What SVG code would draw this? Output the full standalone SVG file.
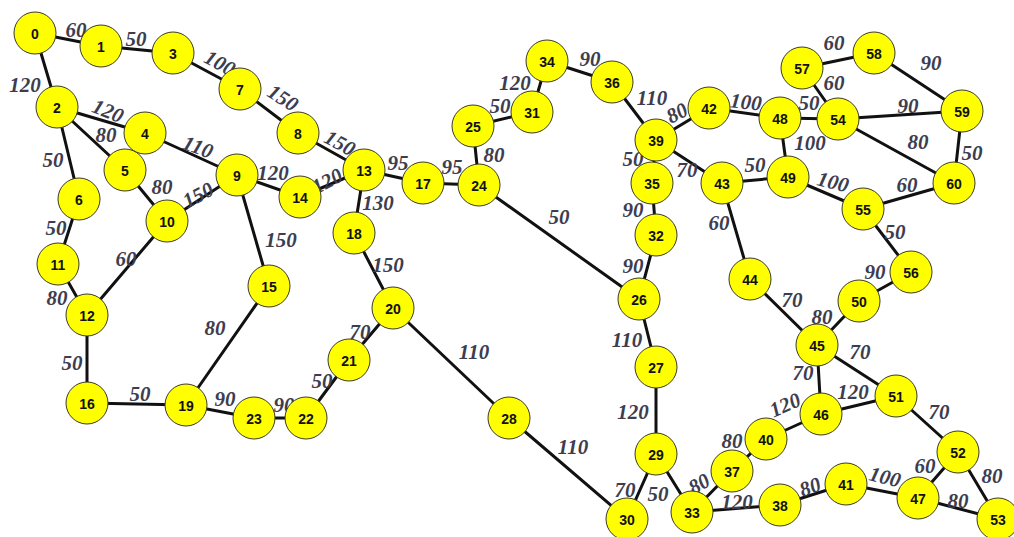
<svg xmlns="http://www.w3.org/2000/svg" width="1014" height="537" viewBox="0 0 1014 537">
  <style>
    .edge { stroke: #111; stroke-width: 3; stroke-linecap: round; }
    .w { font-family: "Liberation Serif", "Times New Roman", serif; font-style: italic; font-weight: bold; font-size: 21px; fill: #3d3d50; text-anchor: middle; dominant-baseline: central; }
    .node circle { fill: #ffff00; stroke: #3a3a2a; stroke-width: 1; }
    .node text { font-family: "Liberation Sans", Arial, sans-serif; font-weight: bold; font-size: 14px; fill: #111; text-anchor: middle; dominant-baseline: central; }
  </style>
  <rect width="1014" height="537" fill="#ffffff"/>

  <!-- connectors -->
  <g id="connectors">
    <line class="edge" x1="35" y1="33" x2="101" y2="46"/>
    <line class="edge" x1="101" y1="46" x2="173" y2="53"/>
    <line class="edge" x1="173" y1="53" x2="240" y2="89"/>
    <line class="edge" x1="240" y1="89" x2="298" y2="133"/>
    <line class="edge" x1="298" y1="133" x2="364" y2="170"/>
    <line class="edge" x1="35" y1="33" x2="57" y2="107"/>
    <line class="edge" x1="57" y1="107" x2="145" y2="133"/>
    <line class="edge" x1="57" y1="107" x2="125" y2="170"/>
    <line class="edge" x1="57" y1="107" x2="79" y2="199"/>
    <line class="edge" x1="145" y1="133" x2="237" y2="175"/>
    <line class="edge" x1="125" y1="170" x2="167" y2="221"/>
    <line class="edge" x1="167" y1="221" x2="237" y2="175"/>
    <line class="edge" x1="237" y1="175" x2="300" y2="197"/>
    <line class="edge" x1="300" y1="197" x2="364" y2="170"/>
    <line class="edge" x1="237" y1="175" x2="269" y2="286"/>
    <line class="edge" x1="79" y1="199" x2="58" y2="264"/>
    <line class="edge" x1="58" y1="264" x2="87" y2="315"/>
    <line class="edge" x1="167" y1="221" x2="87" y2="315"/>
    <line class="edge" x1="87" y1="315" x2="87" y2="403"/>
    <line class="edge" x1="87" y1="403" x2="186" y2="405"/>
    <line class="edge" x1="269" y1="286" x2="186" y2="405"/>
    <line class="edge" x1="186" y1="405" x2="254" y2="418"/>
    <line class="edge" x1="254" y1="418" x2="306" y2="418"/>
    <line class="edge" x1="306" y1="418" x2="349" y2="360"/>
    <line class="edge" x1="349" y1="360" x2="393" y2="308"/>
    <line class="edge" x1="393" y1="308" x2="354" y2="233"/>
    <line class="edge" x1="354" y1="233" x2="364" y2="170"/>
    <line class="edge" x1="364" y1="170" x2="423" y2="183"/>
    <line class="edge" x1="423" y1="183" x2="479" y2="185"/>
    <line class="edge" x1="479" y1="185" x2="473" y2="126"/>
    <line class="edge" x1="473" y1="126" x2="532" y2="112"/>
    <line class="edge" x1="532" y1="112" x2="547" y2="61"/>
    <line class="edge" x1="547" y1="61" x2="612" y2="82"/>
    <line class="edge" x1="612" y1="82" x2="656" y2="140"/>
    <line class="edge" x1="656" y1="140" x2="709" y2="108"/>
    <line class="edge" x1="656" y1="140" x2="652" y2="183"/>
    <line class="edge" x1="656" y1="140" x2="722" y2="183"/>
    <line class="edge" x1="479" y1="185" x2="639" y2="299"/>
    <line class="edge" x1="652" y1="183" x2="656" y2="235"/>
    <line class="edge" x1="656" y1="235" x2="639" y2="299"/>
    <line class="edge" x1="639" y1="299" x2="656" y2="367"/>
    <line class="edge" x1="656" y1="367" x2="656" y2="454"/>
    <line class="edge" x1="656" y1="454" x2="627" y2="519"/>
    <line class="edge" x1="656" y1="454" x2="692" y2="512"/>
    <line class="edge" x1="393" y1="308" x2="509" y2="418"/>
    <line class="edge" x1="509" y1="418" x2="627" y2="519"/>
    <line class="edge" x1="692" y1="512" x2="732" y2="471"/>
    <line class="edge" x1="732" y1="471" x2="766" y2="439"/>
    <line class="edge" x1="766" y1="439" x2="821" y2="414"/>
    <line class="edge" x1="692" y1="512" x2="780" y2="505"/>
    <line class="edge" x1="780" y1="505" x2="846" y2="484"/>
    <line class="edge" x1="846" y1="484" x2="918" y2="498"/>
    <line class="edge" x1="918" y1="498" x2="958" y2="452"/>
    <line class="edge" x1="918" y1="498" x2="998" y2="519"/>
    <line class="edge" x1="958" y1="452" x2="998" y2="519"/>
    <line class="edge" x1="896" y1="396" x2="958" y2="452"/>
    <line class="edge" x1="821" y1="414" x2="896" y2="396"/>
    <line class="edge" x1="817" y1="345" x2="821" y2="414"/>
    <line class="edge" x1="817" y1="345" x2="896" y2="396"/>
    <line class="edge" x1="750" y1="279" x2="817" y2="345"/>
    <line class="edge" x1="817" y1="345" x2="859" y2="301"/>
    <line class="edge" x1="859" y1="301" x2="911" y2="272"/>
    <line class="edge" x1="863" y1="209" x2="911" y2="272"/>
    <line class="edge" x1="788" y1="177" x2="863" y2="209"/>
    <line class="edge" x1="863" y1="209" x2="954" y2="183"/>
    <line class="edge" x1="722" y1="183" x2="788" y2="177"/>
    <line class="edge" x1="722" y1="183" x2="750" y2="279"/>
    <line class="edge" x1="709" y1="108" x2="780" y2="118"/>
    <line class="edge" x1="780" y1="118" x2="838" y2="119"/>
    <line class="edge" x1="780" y1="118" x2="788" y2="177"/>
    <line class="edge" x1="838" y1="119" x2="802" y2="68"/>
    <line class="edge" x1="802" y1="68" x2="874" y2="53"/>
    <line class="edge" x1="874" y1="53" x2="962" y2="111"/>
    <line class="edge" x1="838" y1="119" x2="962" y2="111"/>
    <line class="edge" x1="838" y1="119" x2="954" y2="183"/>
    <line class="edge" x1="962" y1="111" x2="954" y2="183"/>
  </g>

  <!-- edge weights -->
  <g id="weights">
    <text class="w" x="76" y="30">60</text>
    <text class="w" x="136" y="39">50</text>
    <text class="w" x="220" y="63" transform="rotate(28 220 63)">100</text>
    <text class="w" x="283" y="98" transform="rotate(32 283 98)">150</text>
    <text class="w" x="340" y="143" transform="rotate(28 340 143)">150</text>
    <text class="w" x="25" y="85">120</text>
    <text class="w" x="108" y="111" transform="rotate(22 108 111)">120</text>
    <text class="w" x="106" y="135">80</text>
    <text class="w" x="53" y="160">50</text>
    <text class="w" x="198" y="147" transform="rotate(20 198 147)">110</text>
    <text class="w" x="162" y="187">80</text>
    <text class="w" x="198" y="195" transform="rotate(-28 198 195)">150</text>
    <text class="w" x="273" y="173">120</text>
    <text class="w" x="327" y="181" transform="rotate(-28 327 181)">120</text>
    <text class="w" x="281" y="240">150</text>
    <text class="w" x="56" y="228">50</text>
    <text class="w" x="57" y="298">80</text>
    <text class="w" x="126" y="259">60</text>
    <text class="w" x="72" y="363">50</text>
    <text class="w" x="140" y="394">50</text>
    <text class="w" x="215" y="328">80</text>
    <text class="w" x="225" y="399">90</text>
    <text class="w" x="284" y="405">90</text>
    <text class="w" x="322" y="381">50</text>
    <text class="w" x="360" y="332">70</text>
    <text class="w" x="388" y="265">150</text>
    <text class="w" x="378" y="203">130</text>
    <text class="w" x="398" y="163">95</text>
    <text class="w" x="452" y="167">95</text>
    <text class="w" x="494" y="155">80</text>
    <text class="w" x="500" y="106">50</text>
    <text class="w" x="515" y="83">120</text>
    <text class="w" x="590" y="59">90</text>
    <text class="w" x="652" y="98">110</text>
    <text class="w" x="677" y="113" transform="rotate(-28 677 113)">80</text>
    <text class="w" x="633" y="159">50</text>
    <text class="w" x="687" y="170">70</text>
    <text class="w" x="559" y="217">50</text>
    <text class="w" x="633" y="210">90</text>
    <text class="w" x="633" y="266">90</text>
    <text class="w" x="627" y="340">110</text>
    <text class="w" x="633" y="412">120</text>
    <text class="w" x="625" y="490">70</text>
    <text class="w" x="658" y="494">50</text>
    <text class="w" x="474" y="352">110</text>
    <text class="w" x="573" y="447">110</text>
    <text class="w" x="699" y="484" transform="rotate(-30 699 484)">80</text>
    <text class="w" x="732" y="441">80</text>
    <text class="w" x="785" y="405" transform="rotate(-24 785 405)">120</text>
    <text class="w" x="737" y="502">120</text>
    <text class="w" x="810" y="487" transform="rotate(-20 810 487)">80</text>
    <text class="w" x="885" y="477" transform="rotate(14 885 477)">100</text>
    <text class="w" x="925" y="466">60</text>
    <text class="w" x="958" y="501">80</text>
    <text class="w" x="992" y="476">80</text>
    <text class="w" x="939" y="412">70</text>
    <text class="w" x="853" y="392">120</text>
    <text class="w" x="803" y="373">70</text>
    <text class="w" x="860" y="352">70</text>
    <text class="w" x="792" y="300">70</text>
    <text class="w" x="822" y="317">80</text>
    <text class="w" x="875" y="272">90</text>
    <text class="w" x="895" y="232">50</text>
    <text class="w" x="833" y="182" transform="rotate(14 833 182)">100</text>
    <text class="w" x="907" y="185">60</text>
    <text class="w" x="755" y="165">50</text>
    <text class="w" x="719" y="223">60</text>
    <text class="w" x="746" y="102" transform="rotate(6 746 102)">100</text>
    <text class="w" x="809" y="103">50</text>
    <text class="w" x="810" y="143">100</text>
    <text class="w" x="834" y="83">60</text>
    <text class="w" x="834" y="43">60</text>
    <text class="w" x="931" y="63">90</text>
    <text class="w" x="908" y="106">90</text>
    <text class="w" x="918" y="142">80</text>
    <text class="w" x="972" y="153">50</text>
  </g>

  <!-- nodes -->
  <g id="node-0" class="node"><circle cx="35" cy="33" r="21"/><text x="35" y="34">0</text></g>
  <g id="node-1" class="node"><circle cx="101" cy="46" r="21"/><text x="101" y="47">1</text></g>
  <g id="node-2" class="node"><circle cx="57" cy="107" r="21"/><text x="57" y="108">2</text></g>
  <g id="node-3" class="node"><circle cx="173" cy="53" r="21"/><text x="173" y="54">3</text></g>
  <g id="node-4" class="node"><circle cx="145" cy="133" r="21"/><text x="145" y="134">4</text></g>
  <g id="node-5" class="node"><circle cx="125" cy="170" r="21"/><text x="125" y="171">5</text></g>
  <g id="node-6" class="node"><circle cx="79" cy="199" r="21"/><text x="79" y="200">6</text></g>
  <g id="node-7" class="node"><circle cx="240" cy="89" r="21"/><text x="240" y="90">7</text></g>
  <g id="node-8" class="node"><circle cx="298" cy="133" r="21"/><text x="298" y="134">8</text></g>
  <g id="node-9" class="node"><circle cx="237" cy="175" r="21"/><text x="237" y="176">9</text></g>
  <g id="node-10" class="node"><circle cx="167" cy="221" r="21"/><text x="167" y="222">10</text></g>
  <g id="node-11" class="node"><circle cx="58" cy="264" r="21"/><text x="58" y="265">11</text></g>
  <g id="node-12" class="node"><circle cx="87" cy="315" r="21"/><text x="87" y="316">12</text></g>
  <g id="node-13" class="node"><circle cx="364" cy="170" r="21"/><text x="364" y="171">13</text></g>
  <g id="node-14" class="node"><circle cx="300" cy="197" r="21"/><text x="300" y="198">14</text></g>
  <g id="node-15" class="node"><circle cx="269" cy="286" r="21"/><text x="269" y="287">15</text></g>
  <g id="node-16" class="node"><circle cx="87" cy="403" r="21"/><text x="87" y="404">16</text></g>
  <g id="node-17" class="node"><circle cx="423" cy="183" r="21"/><text x="423" y="184">17</text></g>
  <g id="node-18" class="node"><circle cx="354" cy="233" r="21"/><text x="354" y="234">18</text></g>
  <g id="node-19" class="node"><circle cx="186" cy="405" r="21"/><text x="186" y="406">19</text></g>
  <g id="node-20" class="node"><circle cx="393" cy="308" r="21"/><text x="393" y="309">20</text></g>
  <g id="node-21" class="node"><circle cx="349" cy="360" r="21"/><text x="349" y="361">21</text></g>
  <g id="node-22" class="node"><circle cx="306" cy="418" r="21"/><text x="306" y="419">22</text></g>
  <g id="node-23" class="node"><circle cx="254" cy="418" r="21"/><text x="254" y="419">23</text></g>
  <g id="node-24" class="node"><circle cx="479" cy="185" r="21"/><text x="479" y="186">24</text></g>
  <g id="node-25" class="node"><circle cx="473" cy="126" r="21"/><text x="473" y="127">25</text></g>
  <g id="node-26" class="node"><circle cx="639" cy="299" r="21"/><text x="639" y="300">26</text></g>
  <g id="node-27" class="node"><circle cx="656" cy="367" r="21"/><text x="656" y="368">27</text></g>
  <g id="node-28" class="node"><circle cx="509" cy="418" r="21"/><text x="509" y="419">28</text></g>
  <g id="node-29" class="node"><circle cx="656" cy="454" r="21"/><text x="656" y="455">29</text></g>
  <g id="node-30" class="node"><circle cx="627" cy="519" r="21"/><text x="627" y="520">30</text></g>
  <g id="node-31" class="node"><circle cx="532" cy="112" r="21"/><text x="532" y="113">31</text></g>
  <g id="node-32" class="node"><circle cx="656" cy="235" r="21"/><text x="656" y="236">32</text></g>
  <g id="node-33" class="node"><circle cx="692" cy="512" r="21"/><text x="692" y="513">33</text></g>
  <g id="node-34" class="node"><circle cx="547" cy="61" r="21"/><text x="547" y="62">34</text></g>
  <g id="node-35" class="node"><circle cx="652" cy="183" r="21"/><text x="652" y="184">35</text></g>
  <g id="node-36" class="node"><circle cx="612" cy="82" r="21"/><text x="612" y="83">36</text></g>
  <g id="node-37" class="node"><circle cx="732" cy="471" r="21"/><text x="732" y="472">37</text></g>
  <g id="node-38" class="node"><circle cx="780" cy="505" r="21"/><text x="780" y="506">38</text></g>
  <g id="node-39" class="node"><circle cx="656" cy="140" r="21"/><text x="656" y="141">39</text></g>
  <g id="node-40" class="node"><circle cx="766" cy="439" r="21"/><text x="766" y="440">40</text></g>
  <g id="node-41" class="node"><circle cx="846" cy="484" r="21"/><text x="846" y="485">41</text></g>
  <g id="node-42" class="node"><circle cx="709" cy="108" r="21"/><text x="709" y="109">42</text></g>
  <g id="node-43" class="node"><circle cx="722" cy="183" r="21"/><text x="722" y="184">43</text></g>
  <g id="node-44" class="node"><circle cx="750" cy="279" r="21"/><text x="750" y="280">44</text></g>
  <g id="node-45" class="node"><circle cx="817" cy="345" r="21"/><text x="817" y="346">45</text></g>
  <g id="node-46" class="node"><circle cx="821" cy="414" r="21"/><text x="821" y="415">46</text></g>
  <g id="node-47" class="node"><circle cx="918" cy="498" r="21"/><text x="918" y="499">47</text></g>
  <g id="node-48" class="node"><circle cx="780" cy="118" r="21"/><text x="780" y="119">48</text></g>
  <g id="node-49" class="node"><circle cx="788" cy="177" r="21"/><text x="788" y="178">49</text></g>
  <g id="node-50" class="node"><circle cx="859" cy="301" r="21"/><text x="859" y="302">50</text></g>
  <g id="node-51" class="node"><circle cx="896" cy="396" r="21"/><text x="896" y="397">51</text></g>
  <g id="node-52" class="node"><circle cx="958" cy="452" r="21"/><text x="958" y="453">52</text></g>
  <g id="node-53" class="node"><circle cx="998" cy="519" r="21"/><text x="998" y="520">53</text></g>
  <g id="node-54" class="node"><circle cx="838" cy="119" r="21"/><text x="838" y="120">54</text></g>
  <g id="node-55" class="node"><circle cx="863" cy="209" r="21"/><text x="863" y="210">55</text></g>
  <g id="node-56" class="node"><circle cx="911" cy="272" r="21"/><text x="911" y="273">56</text></g>
  <g id="node-57" class="node"><circle cx="802" cy="68" r="21"/><text x="802" y="69">57</text></g>
  <g id="node-58" class="node"><circle cx="874" cy="53" r="21"/><text x="874" y="54">58</text></g>
  <g id="node-59" class="node"><circle cx="962" cy="111" r="21"/><text x="962" y="112">59</text></g>
  <g id="node-60" class="node"><circle cx="954" cy="183" r="21"/><text x="954" y="184">60</text></g>
</svg>
